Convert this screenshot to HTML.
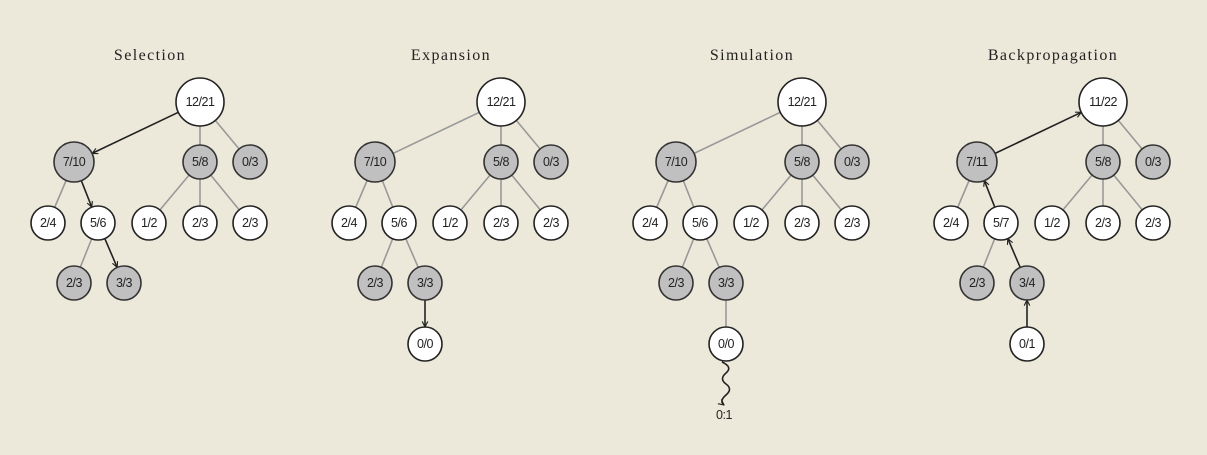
<!DOCTYPE html>
<html><head><meta charset="utf-8"><style>
html,body{margin:0;padding:0;background:#ede9da;}
svg{display:block}
.t{font-family:"Liberation Serif",serif;font-size:16px;fill:#222;text-anchor:middle;letter-spacing:1.4px}
.n{font-family:"Liberation Sans",sans-serif;font-size:12.5px;fill:#222;text-anchor:middle;dominant-baseline:central;letter-spacing:-0.5px}
.e{stroke:#999;stroke-width:1.6}
.a{stroke:#222;stroke-width:1.6;fill:none}
.w{fill:#fff;stroke:#222;stroke-width:1.6}
.g{fill:#c0c0c0;stroke:#333;stroke-width:1.6}
</style></head><body>
<svg width="1207" height="455" viewBox="0 0 1207 455" xmlns="http://www.w3.org/2000/svg">
<defs>
<marker id="m" viewBox="0 0 10 10" refX="9" refY="5" markerWidth="7" markerHeight="7" orient="auto" markerUnits="userSpaceOnUse">
<path d="M1,1 L9,5 L1,9" fill="none" stroke="#222" stroke-width="1.6"/>
</marker>
</defs>

<g>
<text class="t" x="150" y="60">Selection</text>
<line class="e" x1="200" y1="102" x2="200" y2="162"/>
<line class="e" x1="200" y1="102" x2="250" y2="162"/>
<line class="e" x1="74" y1="162" x2="48" y2="223"/>
<line class="e" x1="200" y1="162" x2="149" y2="223"/>
<line class="e" x1="200" y1="162" x2="200" y2="223"/>
<line class="e" x1="200" y1="162" x2="250" y2="223"/>
<line class="e" x1="98" y1="223" x2="74" y2="283"/>
<line class="a" x1="178.3" y1="112.3" x2="92.1" y2="153.4" marker-end="url(#m)"/>
<line class="a" x1="81.3" y1="180.6" x2="91.8" y2="207.2" marker-end="url(#m)"/>
<line class="a" x1="104.8" y1="238.6" x2="117.2" y2="267.4" marker-end="url(#m)"/>
<circle class="w" cx="200" cy="102" r="24"/><text class="n" x="200" y="102">12/21</text>
<circle class="g" cx="74" cy="162" r="20"/><text class="n" x="74" y="162">7/10</text>
<circle class="g" cx="200" cy="162" r="17"/><text class="n" x="200" y="162">5/8</text>
<circle class="g" cx="250" cy="162" r="17"/><text class="n" x="250" y="162">0/3</text>
<circle class="w" cx="48" cy="223" r="17"/><text class="n" x="48" y="223">2/4</text>
<circle class="w" cx="98" cy="223" r="17"/><text class="n" x="98" y="223">5/6</text>
<circle class="w" cx="149" cy="223" r="17"/><text class="n" x="149" y="223">1/2</text>
<circle class="w" cx="200" cy="223" r="17"/><text class="n" x="200" y="223">2/3</text>
<circle class="w" cx="250" cy="223" r="17"/><text class="n" x="250" y="223">2/3</text>
<circle class="g" cx="74" cy="283" r="17"/><text class="n" x="74" y="283">2/3</text>
<circle class="g" cx="124" cy="283" r="17"/><text class="n" x="124" y="283">3/3</text>
</g>

<g transform="translate(301,0)">
<text class="t" x="150" y="60">Expansion</text>
<line class="e" x1="200" y1="102" x2="74" y2="162"/>
<line class="e" x1="200" y1="102" x2="200" y2="162"/>
<line class="e" x1="200" y1="102" x2="250" y2="162"/>
<line class="e" x1="74" y1="162" x2="48" y2="223"/>
<line class="e" x1="74" y1="162" x2="98" y2="223"/>
<line class="e" x1="200" y1="162" x2="149" y2="223"/>
<line class="e" x1="200" y1="162" x2="200" y2="223"/>
<line class="e" x1="200" y1="162" x2="250" y2="223"/>
<line class="e" x1="98" y1="223" x2="74" y2="283"/>
<line class="e" x1="98" y1="223" x2="124" y2="283"/>
<line class="a" x1="124" y1="300" x2="124" y2="327" marker-end="url(#m)"/>
<circle class="w" cx="200" cy="102" r="24"/><text class="n" x="200" y="102">12/21</text>
<circle class="g" cx="74" cy="162" r="20"/><text class="n" x="74" y="162">7/10</text>
<circle class="g" cx="200" cy="162" r="17"/><text class="n" x="200" y="162">5/8</text>
<circle class="g" cx="250" cy="162" r="17"/><text class="n" x="250" y="162">0/3</text>
<circle class="w" cx="48" cy="223" r="17"/><text class="n" x="48" y="223">2/4</text>
<circle class="w" cx="98" cy="223" r="17"/><text class="n" x="98" y="223">5/6</text>
<circle class="w" cx="149" cy="223" r="17"/><text class="n" x="149" y="223">1/2</text>
<circle class="w" cx="200" cy="223" r="17"/><text class="n" x="200" y="223">2/3</text>
<circle class="w" cx="250" cy="223" r="17"/><text class="n" x="250" y="223">2/3</text>
<circle class="g" cx="74" cy="283" r="17"/><text class="n" x="74" y="283">2/3</text>
<circle class="g" cx="124" cy="283" r="17"/><text class="n" x="124" y="283">3/3</text>
<circle class="w" cx="124" cy="344" r="17"/><text class="n" x="124" y="344">0/0</text>
</g>

<g transform="translate(602,0)">
<text class="t" x="150" y="60">Simulation</text>
<line class="e" x1="200" y1="102" x2="74" y2="162"/>
<line class="e" x1="200" y1="102" x2="200" y2="162"/>
<line class="e" x1="200" y1="102" x2="250" y2="162"/>
<line class="e" x1="74" y1="162" x2="48" y2="223"/>
<line class="e" x1="74" y1="162" x2="98" y2="223"/>
<line class="e" x1="200" y1="162" x2="149" y2="223"/>
<line class="e" x1="200" y1="162" x2="200" y2="223"/>
<line class="e" x1="200" y1="162" x2="250" y2="223"/>
<line class="e" x1="98" y1="223" x2="74" y2="283"/>
<line class="e" x1="98" y1="223" x2="124" y2="283"/>
<line class="e" x1="124" y1="283" x2="124" y2="344"/>
<path class="a" d="M120,362 Q131,367 124,373 T124,384 T124,395 T122,405" marker-end="url(#m)"/>
<circle class="w" cx="200" cy="102" r="24"/><text class="n" x="200" y="102">12/21</text>
<circle class="g" cx="74" cy="162" r="20"/><text class="n" x="74" y="162">7/10</text>
<circle class="g" cx="200" cy="162" r="17"/><text class="n" x="200" y="162">5/8</text>
<circle class="g" cx="250" cy="162" r="17"/><text class="n" x="250" y="162">0/3</text>
<circle class="w" cx="48" cy="223" r="17"/><text class="n" x="48" y="223">2/4</text>
<circle class="w" cx="98" cy="223" r="17"/><text class="n" x="98" y="223">5/6</text>
<circle class="w" cx="149" cy="223" r="17"/><text class="n" x="149" y="223">1/2</text>
<circle class="w" cx="200" cy="223" r="17"/><text class="n" x="200" y="223">2/3</text>
<circle class="w" cx="250" cy="223" r="17"/><text class="n" x="250" y="223">2/3</text>
<circle class="g" cx="74" cy="283" r="17"/><text class="n" x="74" y="283">2/3</text>
<circle class="g" cx="124" cy="283" r="17"/><text class="n" x="124" y="283">3/3</text>
<circle class="w" cx="124" cy="344" r="17"/><text class="n" x="124" y="344">0/0</text>
<text class="n" x="122" y="415">0:1</text>
</g>

<g transform="translate(903,0)">
<text class="t" x="150" y="60">Backpropagation</text>
<line class="e" x1="200" y1="102" x2="200" y2="162"/>
<line class="e" x1="200" y1="102" x2="250" y2="162"/>
<line class="e" x1="74" y1="162" x2="48" y2="223"/>
<line class="e" x1="200" y1="162" x2="149" y2="223"/>
<line class="e" x1="200" y1="162" x2="200" y2="223"/>
<line class="e" x1="200" y1="162" x2="250" y2="223"/>
<line class="e" x1="98" y1="223" x2="74" y2="283"/>
<line class="a" x1="92.1" y1="153.4" x2="178.3" y2="112.3" marker-end="url(#m)"/>
<line class="a" x1="91.8" y1="207.2" x2="81.3" y2="180.6" marker-end="url(#m)"/>
<line class="a" x1="117.2" y1="267.4" x2="104.8" y2="238.6" marker-end="url(#m)"/>
<line class="a" x1="124" y1="327" x2="124" y2="300" marker-end="url(#m)"/>
<circle class="w" cx="200" cy="102" r="24"/><text class="n" x="200" y="102">11/22</text>
<circle class="g" cx="74" cy="162" r="20"/><text class="n" x="74" y="162">7/11</text>
<circle class="g" cx="200" cy="162" r="17"/><text class="n" x="200" y="162">5/8</text>
<circle class="g" cx="250" cy="162" r="17"/><text class="n" x="250" y="162">0/3</text>
<circle class="w" cx="48" cy="223" r="17"/><text class="n" x="48" y="223">2/4</text>
<circle class="w" cx="98" cy="223" r="17"/><text class="n" x="98" y="223">5/7</text>
<circle class="w" cx="149" cy="223" r="17"/><text class="n" x="149" y="223">1/2</text>
<circle class="w" cx="200" cy="223" r="17"/><text class="n" x="200" y="223">2/3</text>
<circle class="w" cx="250" cy="223" r="17"/><text class="n" x="250" y="223">2/3</text>
<circle class="g" cx="74" cy="283" r="17"/><text class="n" x="74" y="283">2/3</text>
<circle class="g" cx="124" cy="283" r="17"/><text class="n" x="124" y="283">3/4</text>
<circle class="w" cx="124" cy="344" r="17"/><text class="n" x="124" y="344">0/1</text>
</g>
</svg>
</body></html>
